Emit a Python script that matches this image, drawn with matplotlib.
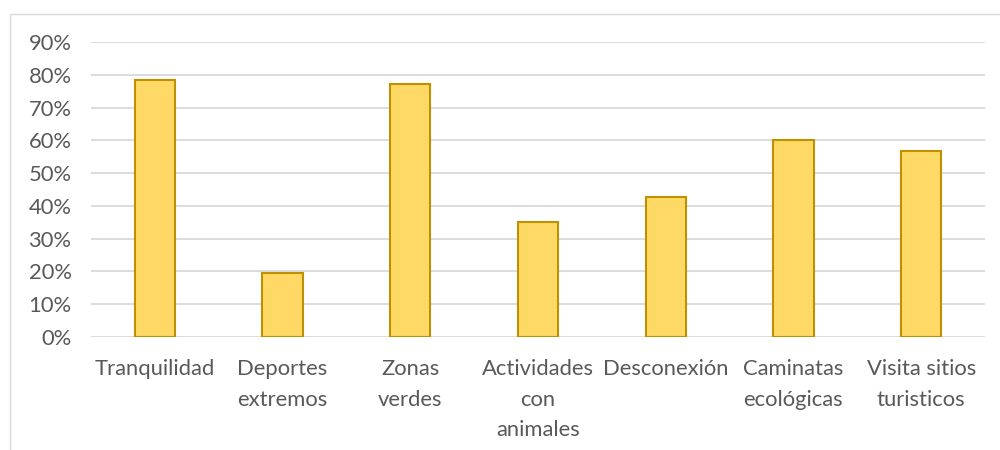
import matplotlib
matplotlib.use("Agg")
import matplotlib.pyplot as plt
from matplotlib.patches import Rectangle
from matplotlib.ticker import FuncFormatter, MultipleLocator
import numpy as np

categories = ["Tranquilidad", "Deportes\nextremos", "Zonas\nverdes",
              "Actividades\ncon\nanimales", "Desconexión", "Caminatas\necológicas",
              "Visita sitios\nturisticos"]
values = [0.784, 0.196, 0.771, 0.351, 0.428, 0.601, 0.567]

plt.rcParams['font.family'] = ['Lato', 'DejaVu Sans']
text_color = "#595959"
grid_color = "#D9D9D9"

fig = plt.figure(figsize=(10, 4.5), dpi=100)
fig.patch.set_facecolor("white")

# chart border (Excel chart area)
fig.patches.append(Rectangle((0.010, -0.05), 1.2, 1.05 - 14 / 450,
                             transform=fig.transFigure, fill=False,
                             edgecolor=grid_color, linewidth=1.0))

ax = fig.add_axes([0.091, 1 - 337 / 450, 0.894, (337 - 42) / 450])
x = np.arange(len(categories))
ax.bar(x, values, width=0.315, color="#FFD966", edgecolor="#BF9000",
       linewidth=1.5, zorder=3)

ax.set_xlim(-0.5, len(categories) - 0.5)
ax.set_ylim(0, 0.9)
ax.yaxis.set_major_locator(MultipleLocator(0.1))
ax.yaxis.set_major_formatter(FuncFormatter(lambda v, p: f"{v * 100:.0f}%"))
ax.grid(axis="y", color=grid_color, linewidth=1.3, zorder=0)
for s in ax.spines.values():
    s.set_visible(False)
ax.tick_params(axis="both", length=0, labelsize=15.8, colors=text_color)
ax.tick_params(axis="y", pad=14)
ax.tick_params(axis="x", pad=16)
ax.set_xticks(x)
ax.set_xticklabels(categories, linespacing=1.65)

fig.savefig("out.png", dpi=100)
